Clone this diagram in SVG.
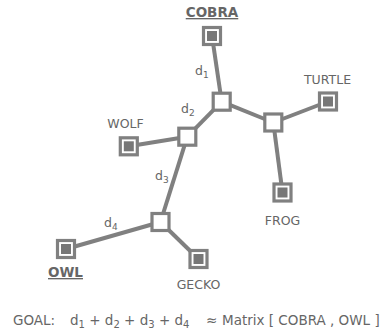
<svg xmlns="http://www.w3.org/2000/svg" width="389" height="330" viewBox="0 0 389 330">
<style>
.e{stroke:#808080;stroke-width:4;fill:none}
.in{fill:#fff;stroke:#808080;stroke-width:3.2}
.lf{fill:#fff;stroke:#808080;stroke-width:3.2}
.lc{fill:#777}
text{font-family:"DejaVu Sans",Verdana,sans-serif;font-size:12.5px;fill:#666}
.b{font-weight:bold;text-decoration:underline;font-size:13.5px}
.s{font-size:9px}
.g{font-size:13.5px}
.gs{font-size:10px}
</style>
<rect width="389" height="330" fill="#fff"/>
<g id="edges">
<line class="e" x1="212" y1="36" x2="221.7" y2="101.7"/>
<line class="e" x1="221.7" y1="101.7" x2="187.3" y2="136.7"/>
<line class="e" x1="221.7" y1="101.7" x2="273.3" y2="122.5"/>
<line class="e" x1="187.3" y1="136.7" x2="128.8" y2="146.3"/>
<line class="e" x1="187.3" y1="136.7" x2="160.5" y2="222"/>
<line class="e" x1="160.5" y1="222" x2="66" y2="249"/>
<line class="e" x1="160.5" y1="222" x2="198.5" y2="259"/>
<line class="e" x1="273.3" y1="122.5" x2="328" y2="101.5"/>
<line class="e" x1="273.3" y1="122.5" x2="282.5" y2="192.5"/>
</g>
<g id="n1"><rect class="in" x="213.2" y="93.2" width="17" height="17"/></g>
<g id="n2"><rect class="in" x="178.8" y="128.2" width="17" height="17"/></g>
<g id="n3"><rect class="in" x="152" y="213.5" width="17" height="17"/></g>
<g id="n4"><rect class="in" x="264.8" y="114" width="17" height="17"/></g>
<g id="cobra"><rect class="lf" x="203.5" y="27.5" width="17" height="17"/><rect class="lc" x="207" y="31" width="10" height="10"/><text class="b" x="212" y="17" text-anchor="middle">COBRA</text></g>
<g id="wolf"><rect class="lf" x="120.3" y="137.8" width="17" height="17"/><rect class="lc" x="123.8" y="141.3" width="10" height="10"/><text x="125.5" y="128" text-anchor="middle">WOLF</text></g>
<g id="owl"><rect class="lf" x="57.5" y="240.5" width="17" height="17"/><rect class="lc" x="61" y="244" width="10" height="10"/><text class="b" x="65.5" y="277" text-anchor="middle">OWL</text></g>
<g id="gecko"><rect class="lf" x="190" y="250.5" width="17" height="17"/><rect class="lc" x="193.5" y="254" width="10" height="10"/><text x="198.5" y="289" text-anchor="middle">GECKO</text></g>
<g id="turtle"><rect class="lf" x="319.5" y="93" width="17" height="17"/><rect class="lc" x="323" y="96.5" width="10" height="10"/><text x="327.5" y="83.5" text-anchor="middle">TURTLE</text></g>
<g id="frog"><rect class="lf" x="274" y="184" width="17" height="17"/><rect class="lc" x="277.5" y="187.5" width="10" height="10"/><text x="282.5" y="225" text-anchor="middle">FROG</text></g>
<g id="labels">
<text x="195" y="75">d<tspan class="s" dy="3">1</tspan></text>
<text x="181" y="113">d<tspan class="s" dy="3">2</tspan></text>
<text x="155" y="180">d<tspan class="s" dy="3">3</tspan></text>
<text x="104" y="227">d<tspan class="s" dy="3">4</tspan></text>
<text class="g" x="13" y="325">GOAL:<tspan x="70">d</tspan><tspan class="gs" dy="3">1</tspan><tspan dy="-3" xml:space="preserve"> + d</tspan><tspan class="gs" dy="3">2</tspan><tspan dy="-3" xml:space="preserve"> + d</tspan><tspan class="gs" dy="3">3</tspan><tspan dy="-3" xml:space="preserve"> + d</tspan><tspan class="gs" dy="3">4</tspan><tspan dy="-3" x="206">≈</tspan><tspan x="222">Matrix [ COBRA , OWL ]</tspan></text>
</g>
</svg>
